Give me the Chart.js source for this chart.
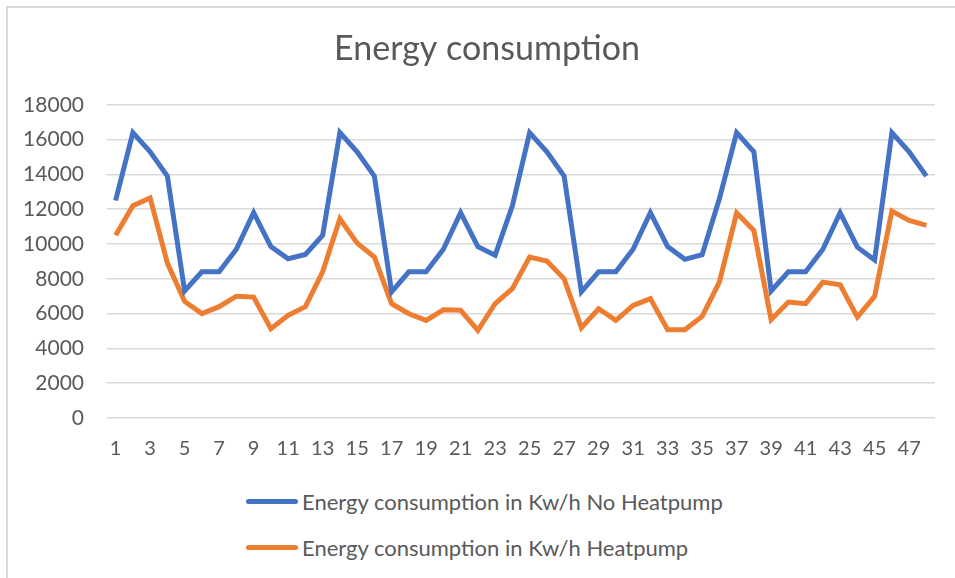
<!DOCTYPE html>
<html>
<head>
<meta charset="utf-8">
<script src="https://cdn.jsdelivr.net/npm/chart.js@4/dist/chart.umd.min.js"></script>
<style>
  body { margin: 0; background: #fff; font-family: Lato, sans-serif; }
  #wrap { position: relative; width: 955px; height: 578px; overflow: hidden; background: #fff; }
  #frame { position: absolute; left: 6px; top: 6px; width: 980px; height: 600px; border: 2px solid #d9d9d9; box-sizing: border-box; }
  #holder { position: absolute; left: 0; top: 0; width: 955px; height: 478px; }
  #legend { position: absolute; left: 246px; top: 478px; }
  .item { display: flex; align-items: center; height: 46px; font-size: 22px; color: #595959; }
  .swatch { width: 52px; height: 5px; border-radius: 3px; margin-right: 4px; }
</style>
</head>
<body>
<div id="wrap">
  <div id="frame"></div>
  <div id="holder"><canvas id="energyChart"></canvas></div>
  <div id="legend"></div>
</div>
<script>
const TITLE = "Energy consumption";
const SERIES_NAMES = [
  "Energy consumption in Kw/h No Heatpump",
  "Energy consumption in Kw/h Heatpump"
];
const COLORS = ["#4472C4", "#ED7D31"];

// periods 1..48
const periods = [];
for (let i = 1; i <= 48; i++) periods.push(String(i));

const noHeatpump = [
  12500, 16400, 15300, 13900, 7300, 8400, 8400, 9700, 11800, 9850,
  9150, 9400, 10500, 16400, 15300, 13900, 7250, 8400, 8400, 9700,
  11800, 9850, 9350, 12200, 16400, 15300, 13900, 7250, 8400, 8400,
  9700, 11800, 9850, 9120, 9380, 12600, 16400, 15300, 7300, 8400,
  8400, 9700, 11800, 9820, 9080, 16400, 15300, 13900
];

const heatpump = [
  10500, 12200, 12650, 8900, 6700, 6000, 6400, 7000, 6950, 5130,
  5900, 6400, 8400, 11450, 10050, 9250, 6570, 5990, 5610, 6220,
  6190, 5040, 6570, 7430, 9250, 9020, 8000, 5190, 6280, 5610,
  6470, 6860, 5070, 5070, 5840, 7810, 11780, 10780, 5650, 6660,
  6570, 7810, 7660, 5800, 6990, 11890, 11360, 11070
];

const yTicks = [0, 2000, 4000, 6000, 8000, 10000, 12000, 14000, 16000, 18000];

const ctx = document.getElementById('energyChart').getContext('2d');

const myChart = new Chart(ctx, {
  type: 'line',
  data: {
    labels: periods,
    datasets: [
      {
        label: SERIES_NAMES[0],
        data: noHeatpump,
        borderColor: COLORS[0],
        backgroundColor: COLORS[0],
        borderWidth: 5,
        pointRadius: 0,
        fill: false,
        tension: 0
      },
      {
        label: SERIES_NAMES[1],
        data: heatpump,
        borderColor: COLORS[1],
        backgroundColor: COLORS[1],
        borderWidth: 5,
        pointRadius: 0,
        fill: false,
        tension: 0
      }
    ]
  },
  options: {
    responsive: true,
    maintainAspectRatio: false,
    animation: false,
    // left padding + empty right axis keep the title centred like the original
    layout: { padding: { left: 19, right: 0, top: 0, bottom: 0 } },
    plugins: {
      legend: { display: false },
      tooltip: { enabled: false },
      title: {
        display: true,
        text: TITLE,
        color: '#595959',
        font: { family: 'Lato', size: 34, weight: 'normal' },
        padding: { top: 29, bottom: 35 }
      }
    },
    scales: {
      x: {
        offset: true,
        grid: { display: false, drawTicks: false },
        border: { display: false },
        ticks: {
          autoSkip: false,
          maxRotation: 0,
          padding: 19,
          color: '#595959',
          font: { family: 'Lato', size: 20 },
          callback: function(val, idx) {
            return idx % 2 === 0 ? periods[idx] : '';
          }
        },
        afterFit: function(axis) { axis.height = 60; }
      },
      y: {
        min: 0,
        max: 18000,
        afterBuildTicks: function(axis) {
          axis.ticks = yTicks.map(v => ({ value: v }));
        },
        grid: { color: '#d9d9d9', lineWidth: 1.5, drawTicks: false },
        border: { display: false },
        ticks: {
          padding: 23,
          color: '#595959',
          font: { family: 'Lato', size: 21 },
          callback: function(val) { return String(val); }
        },
        afterFit: function(axis) { axis.width = 88; }
      },
      yRight: {
        position: 'right',
        min: 0,
        max: 18000,
        grid: { display: false, drawTicks: false },
        border: { display: false },
        ticks: { display: false },
        afterFit: function(axis) { axis.width = 20; }
      }
    }
  }
});

// legend as a vertical list under the chart
const legendEl = document.getElementById('legend');
myChart.data.datasets.forEach(ds => {
  const row = document.createElement('div');
  row.className = 'item';
  const sw = document.createElement('span');
  sw.className = 'swatch';
  sw.style.background = ds.borderColor;
  const txt = document.createElement('span');
  txt.textContent = ds.label;
  row.appendChild(sw);
  row.appendChild(txt);
  legendEl.appendChild(row);
});
</script>
</body>
</html>
